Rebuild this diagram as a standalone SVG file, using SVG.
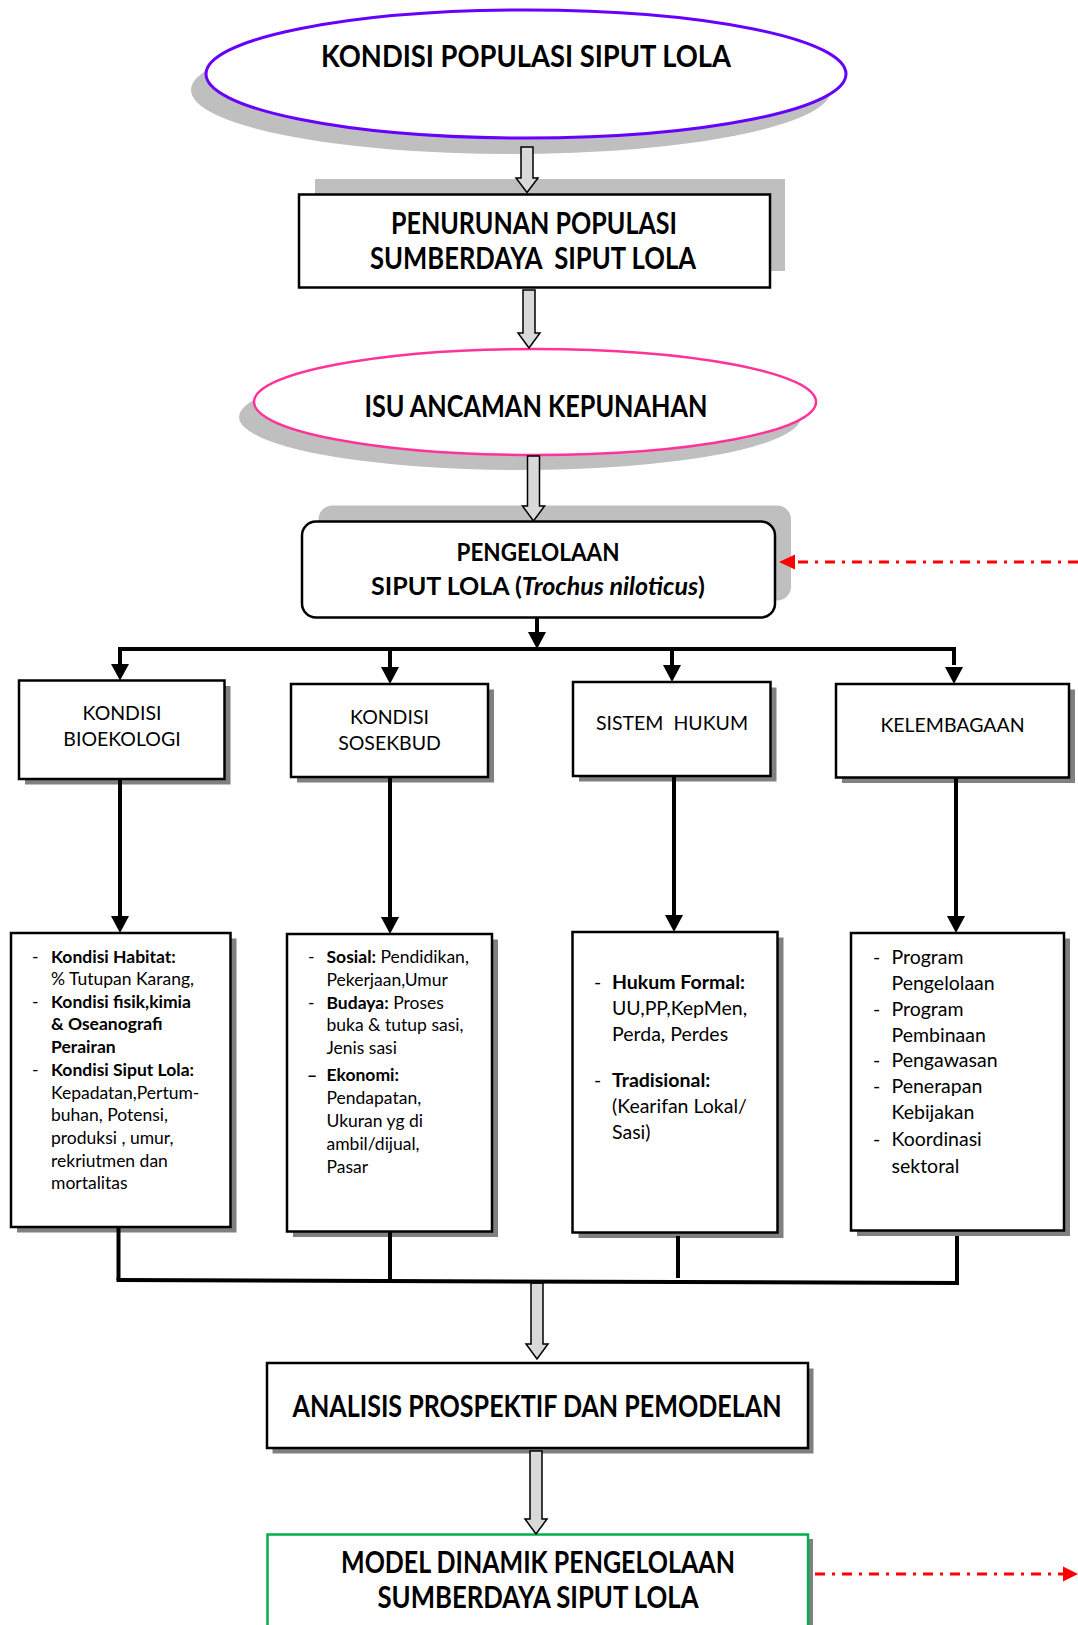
<svg xmlns="http://www.w3.org/2000/svg" width="1078" height="1625" viewBox="0 0 1078 1625">
<style>
.bg{fill:#fff}
.sh1{fill:#BFBFBF}
.sh2{fill:#808080}
.box{fill:#fff;stroke:#000;stroke-width:2.5}
.h{font-family:Lato,"Open Sans","Liberation Sans",sans-serif;font-weight:700;fill:#000;text-anchor:middle;white-space:pre}
.t{font-family:Lato,"Open Sans","Liberation Sans",sans-serif;fill:#000;white-space:pre}
.tc{text-anchor:middle}
.b{font-weight:700}
.hol{fill:#D9D9D9;stroke:#000;stroke-width:1.5;stroke-linejoin:miter}
.ln{fill:none;stroke:#000;stroke-width:4}
.ah{fill:#000}
.red{fill:none;stroke:#FF0000;stroke-width:2.8;stroke-dasharray:10 7 3 7}
.rah{fill:#FF0000}
</style>
<rect class="bg" x="0" y="0" width="1078" height="1625"/>

<g id="kondisi-populasi">
<ellipse class="sh1" cx="511" cy="90" rx="320" ry="64"/>
<ellipse cx="526" cy="74" rx="320" ry="64" fill="#fff" stroke="#6600FF" stroke-width="3"/>
<text class="h" x="526" y="67" font-size="30" textLength="410" lengthAdjust="spacingAndGlyphs">KONDISI POPULASI SIPUT LOLA</text>
</g>

<g id="penurunan-populasi">
<rect class="sh1" x="315" y="179" width="470" height="92"/>
<rect class="box" x="299" y="194.5" width="471" height="93"/>
<text class="h" x="534" y="234" font-size="30" textLength="286" lengthAdjust="spacingAndGlyphs">PENURUNAN POPULASI</text>
<text class="h" x="533" y="269" font-size="30" textLength="326" lengthAdjust="spacingAndGlyphs">SUMBERDAYA  SIPUT LOLA</text>
</g>

<g id="isu-ancaman">
<ellipse class="sh1" cx="520" cy="417" rx="281" ry="53"/>
<ellipse cx="535" cy="402" rx="281" ry="53" fill="#fff" stroke="#FF3399" stroke-width="2.5"/>
<text class="h" x="536" y="417" font-size="30" textLength="343" lengthAdjust="spacingAndGlyphs">ISU ANCAMAN KEPUNAHAN</text>
</g>

<g id="pengelolaan">
<rect class="sh1" x="318.5" y="505.5" width="472.5" height="95" rx="14"/>
<rect class="box" x="302" y="521.5" width="473" height="96" rx="14"/>
<text class="h" x="538" y="561" font-size="25" textLength="163" lengthAdjust="spacingAndGlyphs">PENGELOLAAN</text>
<text class="h" x="538" y="595" font-size="25" textLength="334" lengthAdjust="spacingAndGlyphs">SIPUT LOLA (<tspan font-style="italic">Trochus niloticus</tspan>)</text>
</g>

<g id="kondisi-bioekologi">
<rect class="sh2" x="25" y="686" width="205.5" height="98.5"/>
<rect class="box" x="19" y="680.5" width="205.5" height="98.5"/>
<text class="t tc" x="122" y="720" font-size="19.5">KONDISI</text>
<text class="t tc" x="122" y="746" font-size="19.5">BIOEKOLOGI</text>
</g>

<g id="kondisi-sosekbud">
<rect class="sh2" x="297" y="689.5" width="197" height="93"/>
<rect class="box" x="291" y="684" width="197" height="93"/>
<text class="t tc" x="389.5" y="724" font-size="19.5">KONDISI</text>
<text class="t tc" x="389.5" y="750" font-size="19.5">SOSEKBUD</text>
</g>

<g id="sistem-hukum">
<rect class="sh2" x="579" y="687.5" width="197.5" height="94"/>
<rect class="box" x="573" y="682" width="197.5" height="94"/>
<text class="t tc" x="672" y="730" font-size="19.5">SISTEM  HUKUM</text>
</g>

<g id="kelembagaan">
<rect class="sh2" x="842" y="689.5" width="233" height="93.5"/>
<rect class="box" x="836" y="684" width="233" height="93.5"/>
<text class="t tc" x="952.5" y="731.5" font-size="19.5">KELEMBAGAAN</text>
</g>

<g id="detail-bioekologi">
<rect class="sh2" x="17" y="938.5" width="219.5" height="294"/>
<rect class="box" x="11" y="933" width="219.5" height="294"/>
<g class="t" font-size="17.5">
<text x="32" y="962.5">-</text>
<text x="51" y="962.5" class="b">Kondisi Habitat:</text>
<text x="51" y="985">% Tutupan Karang,</text>
<text x="32" y="1007.5">-</text>
<text x="51" y="1007.5" class="b">Kondisi fisik,kimia</text>
<text x="51" y="1030" class="b">&amp; Oseanografi</text>
<text x="51" y="1052.5" class="b">Perairan</text>
<text x="32" y="1075.5">-</text>
<text x="51" y="1075.5" class="b">Kondisi Siput Lola:</text>
<text x="51" y="1098.5">Kepadatan,Pertum-</text>
<text x="51" y="1121">buhan, Potensi,</text>
<text x="51" y="1143.5">produksi , umur,</text>
<text x="51" y="1166.5">rekriutmen  dan</text>
<text x="51" y="1189">mortalitas</text>
</g>
</g>

<g id="detail-sosekbud">
<rect class="sh2" x="293" y="939.5" width="205" height="297.5"/>
<rect class="box" x="287" y="934" width="205" height="297.5"/>
<g class="t" font-size="17.5">
<text x="308" y="963">-</text>
<text x="326.5" y="963"><tspan class="b">Sosial:</tspan> Pendidikan,</text>
<text x="326.5" y="986">Pekerjaan,Umur</text>
<text x="308" y="1008.5">-</text>
<text x="326.5" y="1008.5"><tspan class="b">Budaya:</tspan> Proses</text>
<text x="326.5" y="1031">buka &amp; tutup sasi,</text>
<text x="326.5" y="1053.5">Jenis sasi</text>
<text x="307" y="1081" class="b">–</text>
<text x="326.5" y="1081" class="b">Ekonomi:</text>
<text x="326.5" y="1104">Pendapatan,</text>
<text x="326.5" y="1127">Ukuran yg di</text>
<text x="326.5" y="1150">ambil/dijual,</text>
<text x="326.5" y="1173">Pasar</text>
</g>
</g>

<g id="detail-hukum">
<rect class="sh2" x="578.5" y="937.5" width="205" height="300.5"/>
<rect class="box" x="572.5" y="932" width="205" height="300.5"/>
<g class="t" font-size="19.5">
<text x="594" y="988.5">-</text>
<text x="612" y="988.5" class="b">Hukum Formal:</text>
<text x="612" y="1015">UU,PP,KepMen,</text>
<text x="612" y="1041">Perda, Perdes</text>
<text x="594" y="1087">-</text>
<text x="612" y="1087" class="b">Tradisional:</text>
<text x="612" y="1113">(Kearifan Lokal/</text>
<text x="612" y="1138.5">Sasi)</text>
</g>
</g>

<g id="detail-kelembagaan">
<rect class="sh2" x="857" y="938.5" width="213" height="297.5"/>
<rect class="box" x="851" y="933" width="213" height="297.5"/>
<g class="t" font-size="19.5">
<text x="873" y="963.5">-</text>
<text x="891.5" y="963.5">Program</text>
<text x="891.5" y="989.5">Pengelolaan</text>
<text x="873" y="1015.5">-</text>
<text x="891.5" y="1015.5">Program</text>
<text x="891.5" y="1041.5">Pembinaan</text>
<text x="873" y="1067">-</text>
<text x="891.5" y="1067">Pengawasan</text>
<text x="873" y="1093">-</text>
<text x="891.5" y="1093">Penerapan</text>
<text x="891.5" y="1119">Kebijakan</text>
<text x="873" y="1146">-</text>
<text x="891.5" y="1146">Koordinasi</text>
<text x="891.5" y="1172.5">sektoral</text>
</g>
</g>

<g id="analisis">
<rect class="sh2" x="272.5" y="1368.5" width="541" height="85"/>
<rect class="box" x="267" y="1363" width="541" height="85"/>
<text class="h" x="537" y="1417" font-size="30" textLength="489" lengthAdjust="spacingAndGlyphs">ANALISIS PROSPEKTIF DAN PEMODELAN</text>
</g>

<g id="model-dinamik">
<rect class="sh2" x="272" y="1539" width="541" height="100"/>
<rect x="267.5" y="1534.5" width="540.5" height="100" fill="#fff" stroke="#00B050" stroke-width="2.5"/>
<text class="h" x="538" y="1573" font-size="30" textLength="394" lengthAdjust="spacingAndGlyphs">MODEL DINAMIK PENGELOLAAN</text>
<text class="h" x="538" y="1608" font-size="30" textLength="321" lengthAdjust="spacingAndGlyphs">SUMBERDAYA SIPUT LOLA</text>
</g>

<g id="connectors">
<path class="hol" d="M521,147 H533 V178 H538 L527,192.5 L516,178 H521 Z"/>
<path class="hol" d="M523,290 H535 V333 H540 L529,348 L518,333 H523 Z"/>
<path class="hol" d="M527.5,456 H539.5 V506 H544.5 L533.5,521 L522.5,506 H527.5 Z"/>
<path class="hol" d="M531,1283 H543 V1344 H548 L537,1359 L526,1344 H531 Z"/>
<path class="hol" d="M530,1451 H542 V1519 H547 L536,1534 L525,1519 H530 Z"/>

<line class="ln" x1="537" y1="617.5" x2="537" y2="634"/>
<polygon class="ah" points="528,632 546,632 537,649"/>
<polyline class="ln" points="120,665 120,649 954,649 954,665"/>
<line class="ln" x1="390" y1="649" x2="390" y2="668"/>
<line class="ln" x1="672" y1="649" x2="672" y2="666"/>
<polygon class="ah" points="111,664 129,664 120,680.5"/>
<polygon class="ah" points="381,667 399,667 390,684"/>
<polygon class="ah" points="663,665 681,665 672,682"/>
<polygon class="ah" points="945,667 963,667 954,684"/>

<line class="ln" x1="120" y1="779" x2="120" y2="918"/>
<polygon class="ah" points="111,916 129,916 120,933"/>
<line class="ln" x1="390" y1="777" x2="390" y2="919"/>
<polygon class="ah" points="381,917 399,917 390,934"/>
<line class="ln" x1="674" y1="776" x2="674" y2="917"/>
<polygon class="ah" points="665,915 683,915 674,932"/>
<line class="ln" x1="956" y1="777.5" x2="956" y2="918"/>
<polygon class="ah" points="947,916 965,916 956,933"/>

<line class="ln" x1="118.5" y1="1227" x2="118.5" y2="1280"/>
<line class="ln" x1="390" y1="1231.5" x2="390" y2="1280"/>
<line class="ln" x1="678" y1="1236" x2="678" y2="1278"/>
<line class="ln" x1="957" y1="1236" x2="957" y2="1283"/>
<line class="ln" x1="116.5" y1="1280" x2="959" y2="1283"/>

<line class="red" x1="1078" y1="562" x2="795" y2="562"/>
<polygon class="rah" points="779,562 795,554.5 795,569.5"/>
<line class="red" x1="815" y1="1574" x2="1063" y2="1574"/>
<polygon class="rah" points="1078,1574 1063,1566.5 1063,1581.5"/>
</g>
</svg>
